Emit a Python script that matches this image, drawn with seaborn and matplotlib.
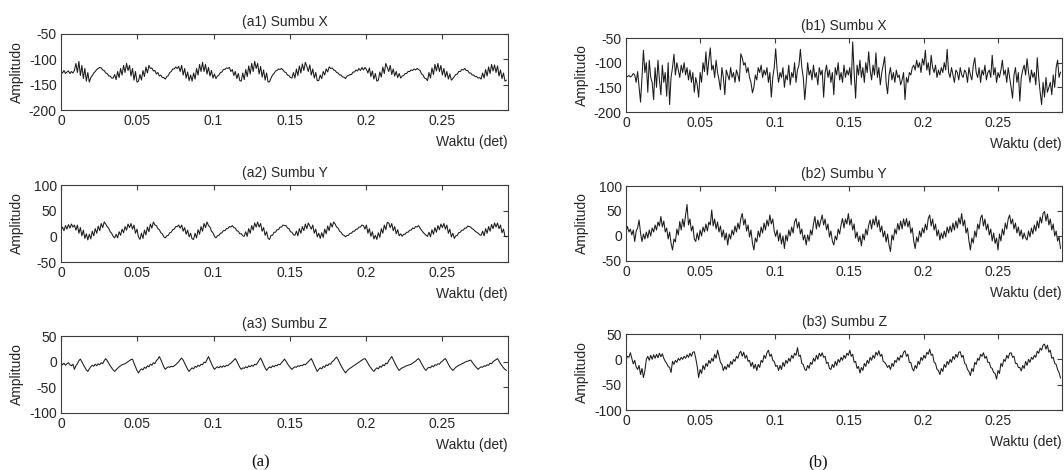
import numpy as np
import matplotlib
matplotlib.use("Agg")
import matplotlib.pyplot as plt
import seaborn as sns

# Accelerometer samples, 1024 Hz
FS = 1024.0

# (a) axis X
a1_x = [
    -124, -127, -122, -128, -125, -123, -128, -124, -127, -122,
    -108, -126, -104, -132, -112, -138, -118, -143, -126, -145,
    -136, -132, -127, -124, -120, -118, -116,
    -117, -121, -122, -127, -128, -133, -133, -137, -137,
    -130, -140, -124, -136, -118, -131, -112, -126, -108, -122,
    -112, -133, -118, -141, -124, -145, -143,
    -130, -141, -122, -134, -115, -127, -112, -118,
    -117, -123, -122, -129, -126, -133, -131, -136, -136, -139,
    -134, -132, -126, -124, -119, -119, -115, -118, -114,
    -124, -112, -131, -118, -137, -125, -142, -131, -143,
    -127, -139, -118, -131, -110, -124, -106,
    -124, -110, -129, -116, -133, -122, -137, -129, -138,
    -133, -131, -126, -125, -120, -120, -117, -118, -116,
    -124, -120, -132, -124, -138, -128, -142, -143,
    -127, -140, -120, -134, -113, -129, -108, -124, -104, -118,
    -108, -129, -114, -135, -121, -141, -127, -145, -144,
    -137, -131, -128, -123, -122, -119, -120, -118,
    -121, -125, -126, -131, -132, -136, -137,
    -126, -137, -119, -132, -113, -127, -109, -122, -106, -114,
    -124, -111, -131, -119, -137, -126, -142, -142,
    -131, -138, -124, -131, -119, -125, -115, -118,
    -117, -121, -122, -126, -127, -131, -131, -135, -135, -138,
    -133, -132, -130, -130, -125, -125, -121, -123, -118, -122, -116, -121, -116, -120,
    -127, -117, -134, -123, -139, -128, -143, -141,
    -125, -135, -115, -128, -108, -116,
    -124, -112, -130, -119, -133, -124, -136, -128, -137,
    -133, -132, -128, -128, -124, -124, -121, -122, -119, -121, -118, -120,
    -122, -129, -131, -137, -138, -142,
    -126, -137, -117, -130, -110, -123, -108,
    -124, -112, -131, -118, -135, -124, -139, -129, -141, -138,
    -134, -130, -129, -124, -124, -120, -121, -118,
    -122, -122, -127, -127, -131, -131, -134, -134, -137, -136, -139,
    -127, -137, -120, -133, -115, -128, -110, -123, -111,
    -126, -113, -133, -121, -138, -127, -143, -141,
]

# (a) axis Y
a2_y = [
    12, 18, 11, 21, 14, 23, 16, 24, 18, 22,
    12, 22, 6, 17, 1, 12, -4, 5, -7,
    4, -5, 10, 1, 15, 6, 20, 11, 25, 17, 28,
    24, 19, 16, 9, 6, 0, -3,
    4, -3, 9, 2, 14, 7, 19, 12, 24, 17, 25,
    14, 22, 6, 14, -1, -6,
    6, -4, 12, 3, 18, 9, 24, 16, 28,
    22, 21, 15, 13, 7, 5, -1, -3,
    1, 2, 7, 8, 13, 14, 19, 19, 22,
    16, 22, 10, 17, 4, 12, -1, 6, -5, -6,
    6, -3, 13, 4, 19, 10, 25, 17, 28,
    21, 18, 10, 7, 0, -3,
    1, 2, 6, 7, 11, 11, 15, 15, 19, 18, 21,
    17, 16, 11, 10, 5, 5, 1, 0,
    9, 0, 15, 6, 21, 12, 26, 18, 28,
    18, 25, 10, 17, 2, 9, -4, -6,
    2, 2, 8, 8, 13, 13, 18, 18, 22, 21,
    21, 16, 15, 9, 8, 3, 2,
    10, 1, 15, 6, 19, 11, 24, 15, 26, 20,
    14, 22, 6, 14, -1, 6, -4,
    7, -2, 14, 5, 20, 11, 26, 18, 28,
    24, 18, 16, 10, 8, 3, 2, -1,
    2, 2, 6, 6, 10, 10, 14, 14, 18, 18, 22, 21,
    14, 22, 6, 15, 0, 9, -5, 2, -6,
    7, -2, 15, 6, 22, 13, 27, 26,
    17, 25, 11, 19, 5, 13, 1, 5, 0,
    4, 4, 8, 8, 12, 12, 16, 15, 19, 18, 21,
    16, 12, 8, 5, 2, 0,
    8, -1, 13, 4, 17, 8, 21, 13, 24, 17, 25,
    14, 22, 6, 14, -1, 6, -4,
    1, 2, 7, 8, 12, 12, 16, 16, 20, 19,
    18, 15, 13, 10, 8, 6, 3, 2,
    10, 1, 15, 6, 19, 10, 23, 15, 26, 18, 26,
    15, 22, 7, 14, 0, -1,
]

# (a) axis Z
a3_z = [
    -2, -6, -3, -7, -4, -2, -6, -8, -5, -15,
    -8, -4, 2, 5,
    0, -6, -11, -16, -19,
    -14, -10, -7, -9, -5, -8, -4, -6, -2, -4, 2, 6,
    2, -3, -8, -12, -16, -19,
    -16, -13, -10, -8, -6, -5,
    -4, -2, 0, 2, 4, 5,
    -3, -10, -17, -22,
    -17, -14, -16, -11, -13, -8, -10, -5, -7, -2, -4, 2, 5, 10,
    4, -3, -10, -15,
    -12, -10, -11, -9, -10, -8, -6, -3, 0, 4, 7,
    3, -3, -9, -15, -19,
    -15, -12, -14, -9, -11, -7, -9, -5, -6, -1, -2, 4, 10,
    3, -4, -10, -15,
    -12, -10, -12, -9, -11, -8, -10, -7, -8, -5, -3, 0, 3, 6,
    1, -5, -11, -15,
    -12, -13, -10, -12, -8, -10, -7, -9, -5, -6, -2, 3, 7,
    1, -6, -12, -17,
    -13, -10, -12, -8, -10, -7, -8, -5, -6, -2, 1, 5,
    1, -4, -8, -12, -15,
    -12, -10, -11, -8, -9, -7, -8, -5, -6, -3, 0, 3, 6,
    0, -7, -13, -19,
    -15, -12, -14, -9, -11, -6, -8, -4, -5, 0, 2, 6, 9,
    4, -2, -8, -13, -18, -22,
    -18, -15, -13, -11, -9, -7, -5, -3, -1, 1, 3, 5, 6,
    2, -3, -8, -12, -16, -19,
    -15, -12, -14, -9, -11, -6, -8, -3, -4, 2, 6, 10,
    4, -2, -8, -13, -17,
    -14, -12, -11, -9, -8, -7, -6, -5, -3, -1, 1, 4, 6,
    2, -4, -9, -14, -17,
    -13, -11, -12, -8, -10, -6, -7, -4, -5, -1, 1, 4, 6,
    1, -5, -10, -14, -17,
    -14, -11, -9, -7, -6, -4, -3, -1, 0, 1, 2, 3,
    -1, -5, -9, -12, -15,
    -12, -10, -11, -8, -9, -6, -7, -3, -4, 0, 2, 4, 6,
    1, -4, -8, -12, -15, -17,
]

# (b) axis X
b1_x = [
    -130, -128, -126, -129, -127, -122, -125, -140, -118, -150, -180, -130, -75, -120, -100, -160, -95, -130, -140, -175,
    -110, -150, -95, -135, -165, -105, -140, -120, -168, -100, -185, -130, -110, -83, -125, -100, -115, -130, -105, -120,
    -100, -125, -110, -135, -115, -140, -120, -160, -130, -145, -170, -120, -140, -100, -118, -78, -125, -95, -70, -115,
    -105, -130, -95, -120, -135, -155, -110, -130, -165, -115, -125, -135, -110, -130, -120, -140, -115, -125, -138, -82,
    -90, -105, -100, -120, -110, -130, -140, -161, -150, -125, -135, -110, -120, -105, -130, -115, -125, -110, -140, -120,
    -170, -130, -110, -72, -115, -140, -120, -130, -110, -150, -125, -135, -105, -145, -120, -130, -100, -140, -115, -105,
    -73, -110, -130, -175, -140, -100, -125, -115, -135, -105, -130, -120, -145, -110, -125, -115, -170, -120, -105, -130,
    -115, -140, -120, -165, -110, -125, -100, -135, -120, -140, -105, -130, -115, -125, -110, -145, -58, -120, -172, -105,
    -125, -95, -130, -110, -140, -100, -120, -78, -115, -135, -105, -125, -80, -130, -110, -145, -120, -105, -88, -140,
    -163, -125, -110, -135, -120, -140, -115, -130, -125, -145, -135, -120, -175, -130, -140, -120, -125, -110, -105, -115,
    -95, -110, -100, -120, -92, -105, -75, -115, -100, -125, -85, -110, -120, -105, -130, -115, -125, -110, -120, -100,
    -115, -73, -120, -130, -110, -125, -140, -115, -120, -135, -110, -125, -130, -115, -120, -140, -110, -125, -135, -105,
    -90, -120, -130, -110, -140, -115, -125, -105, -135, -120, -115, -130, -85, -125, -110, -140, -120, -130, -115, -95,
    -125, -115, -140, -110, -130, -150, -172, -125, -110, -140, -120, -178, -130, -115, -105, -125, -92, -120, -140, -115,
    -130, -120, -145, -90, -130, -160, -185, -140, -170, -130, -160, -150, -140, -165, -125, -150, -110, -95, -130, -119,
]

# (b) axis Y
b2_y = [
    9, 19, 8, 14, 2, 12, -11, 10, 16, 32, 6, -11,
    4, -6, 8, -4, 12, 0, 16, 8, 22, 12, 28, 20, 39,
    18, 30, 8, 16, -6, 8, -14, -28,
    -6, -12, 14, 2, 29, 12, 34, 18, 42, 63,
    22, 34, 10, 20, -6, -11,
    6, -8, 12, 0, 18, 8, 24, 10, 28, 22, 52,
    20, 34, 14, 28, 8, 20, -2, 12, -8, 6, -18,
    4, -6, 12, 2, 20, 8, 26, 14, 35, 45,
    22, 34, 10, 22, -2, 12, -14, -28,
    -4, -12, 10, -2, 18, 6, 26, 12, 32, 20, 42,
    24, 34, 10, -1, 12, -10, 6, -16, 0, -25,
    2, -10, 12, 0, 18, 6, 28, 35,
    16, 28, 4, 14, -8, 2, -18,
    2, -10, 12, 2, 24, 39, 14, 32, 18, 30, 42,
    22, 34, 12, 24, -2, 10, -10, -18,
    0, -8, 14, 4, 22, 35, 16, 34, 24, 45,
    22, 34, 12, 24, -4, 8, -11, 0, -20,
    4, -8, 14, 2, 22, 32, 14, 34, 22, 40,
    18, 32, 8, 20, -2, 10, -12, 4, -18, -31,
    2, -8, 14, 4, 25, 12, 30, 14, 34, 20, 35,
    18, 30, 6, 16, -10, -25,
    -2, -12, 10, -2, 16, 6, 24, 12, 35, 42,
    20, 34, 12, 24, 0, 12, -8, 6, -5,
    10, -2, 18, 6, 20, 8, 26, 12, 30, 16, 36, 24, 45,
    20, 32, 6, 16, -10, -28,
    -4, -14, 10, -2, 24, 14, 36, 42,
    20, 34, 12, 24, 2, 14, -10, 6, -15, -4, -28,
    4, -10, 14, 2, 26, 14, 34, 42,
    24, 34, 14, 26, 6, 18, 0, 12, -6, 6, -4, -8,
    10, -2, 16, 4, 22, 10, 30, 16, 38, 26, 45, 49,
    30, 44, 22, 34, 12, 24, 0, 10, -10, -2, -25,
]

# (b) axis Z
b3_z = [
    -2, 6, 4, 13,
    2, -9, -2, -15, -20, -12, -30, -18, -36, -22, 0,
    6, -2, 8, 0, 9, 2, 10, 3, 12, 5, 11,
    2, -4, -8, -14, -16, -26,
    -4, -10, -2, -6, 2, -2, 4, 0, 6, 2, 9, 4, 12, 6, 14, 15,
    2, -14, -36,
    -20, -28, -12, -20, -8, -14, -2, -8, 2, -4, 10, 2, 18,
    6, -6, -10, -22,
    -14, -20, -10, -16, -4, -10, 0, -4, 6, 2, 12, 16,
    6, 14, 2, 8, -4, -2, -14, -6, -18, -10, -22,
    -10, -16, -2, -6, 8, 2, 13, 18,
    6, 10, -2, -4, -14, -12, -22,
    -12, -20, -6, -14, -2, -8, 2, -4, 8, 2, 12, 8, 23,
    6, 8, -8, -10, -20, -22,
    -12, -18, -6, -10, 2, -4, 8, 0, 12, 6, 13,
    4, 6, -8, -6, -18, -20,
    -10, -16, -4, -12, 0, -6, 4, -2, 8, 2, 12, 8, 18,
    6, 10, -6, -4, -18, -14, -27,
    -16, -22, -8, -14, -2, -8, 4, -2, 8, 2, 14, 8, 17,
    6, 10, -4, -6, -10, -16, -12, -20,
    -8, -14, -2, -6, 4, -2, 8, 4, 14, 17,
    6, 10, -6, -6, -18, -23,
    -12, -18, -4, -10, 4, -2, 8, 2, 14, 10, 20,
    8, 10, -6, -8, -20, -22, -30,
    -18, -24, -10, -16, -4, -10, 0, -6, 6, 0, 10, 4, 14, 15,
    4, 8, -8, -10, -20, -24, -32,
    -18, -24, -6, -10, 2, -2, 10, 6, 13,
    2, 6, -6, -6, -16, -18, -26, -28, -39,
    -22, -28, -8, -14, 0, -4, 8, 2, 12, 13,
    4, 6, -8, -8, -16, -16, -23,
    -12, -18, -4, -12, 0, -6, 4, 0, 8, 4, 16, 12, 22, 18, 28, 30,
    20, 28, 14, 18, 2, 4, -8, -10, -20, -26, -37,
]

panel_titles = ["(a1) Sumbu X", "(a2) Sumbu Y", "(a3) Sumbu Z",
                "(b1) Sumbu X", "(b2) Sumbu Y", "(b3) Sumbu Z"]
x_ticks = [0, 0.05, 0.1, 0.15, 0.2, 0.25]
x_tick_labels = ["0", "0.05", "0.1", "0.15", "0.2", "0.25"]
y_ticks_x = [-200, -150, -100, -50]
y_ticks_y = [-50, 0, 50, 100]
y_ticks_z = [-100, -50, 0, 50]
x_label = "Waktu (det)"
y_label = "Amplitudo"
group_captions = ["(a)", "(b)"]

sns.set_theme(style="white")
plt.rcParams["font.family"] = ["Liberation Sans", "DejaVu Sans"]

W, H = 1064, 470
fig = plt.figure(figsize=(W / 100, H / 100), dpi=100)
fig.patch.set_facecolor("white")

TEXT = "#262626"
FRAME = "#3c3c3c"


def box(left, top, right, bottom):
    return fig.add_axes([left / W, 1 - bottom / H, (right - left) / W, (bottom - top) / H])


panels = [
    (box(61, 34, 508, 110), a1_x, y_ticks_x),
    (box(61, 185, 508, 262), a2_y, y_ticks_y),
    (box(61, 336, 508, 413), a3_z, y_ticks_z),
    (box(626, 38, 1062, 112), b1_x, y_ticks_x),
    (box(626, 186, 1062, 261), b2_y, y_ticks_y),
    (box(626, 334, 1062, 410), b3_z, y_ticks_z),
]

for (ax, series, yt), title in zip(panels, panel_titles):
    values = np.asarray(series, dtype=float)
    t = np.arange(len(values)) / FS
    sns.lineplot(x=t, y=values, ax=ax, color="#1a1a1a", linewidth=0.75,
                 estimator=None, sort=False)
    ax.set_xlim(0, 0.293)
    ax.set_ylim(yt[0], yt[-1])
    ax.set_xticks(x_ticks)
    ax.set_xticklabels(x_tick_labels)
    ax.set_yticks(yt)
    ax.set_yticklabels([str(v) for v in yt])
    ax.tick_params(direction="in", top=True, right=True, length=3.5, width=0.8,
                   labelsize=10, colors=FRAME, labelcolor=TEXT, pad=3)
    for sp in ax.spines.values():
        sp.set_visible(True)
        sp.set_color(FRAME)
        sp.set_linewidth(0.8)
    ax.set_facecolor("white")
    ax.set_title(title, fontsize=10, color=TEXT, pad=6)
    ax.set_xlabel(x_label, loc="right", fontsize=10, color=TEXT, labelpad=5)
    ax.set_ylabel(y_label, fontsize=10, color=TEXT)
    width_px = ax.get_position().width * W
    ax.yaxis.set_label_coords(-37 / width_px, 0.5)

fig.text(261 / W, 1 - 462 / H, group_captions[0], family=["Liberation Serif", "DejaVu Serif"],
         fontsize=12, color="#111111", ha="center", va="center")
fig.text(818 / W, 1 - 462 / H, group_captions[1], family=["Liberation Serif", "DejaVu Serif"],
         fontsize=12, color="#111111", ha="center", va="center")

fig.savefig("out.png", dpi=100, facecolor="white")
